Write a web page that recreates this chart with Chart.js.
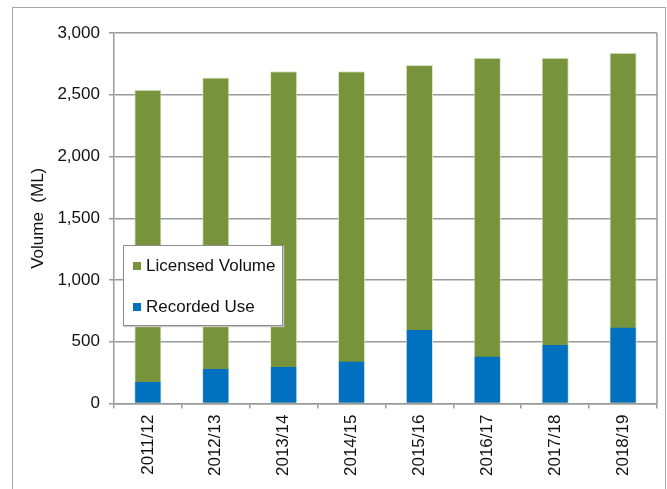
<!DOCTYPE html>
<html>
<head>
<meta charset="utf-8">
<script src="https://cdn.jsdelivr.net/npm/chart.js@4"></script>
<style>
  body { margin: 0; background: #fff; overflow: hidden; }
  #wrap { position: relative; width: 667px; height: 489px; }
  #frame { position: absolute; left: 12px; top: 7px; width: 652px; height: 500px; border: 1.5px solid #a6a6a6; }
  #chart { position: absolute; left: 0; top: 0; }
  #legend {
    position: absolute; left: 123px; top: 245px; width: 158px; height: 79px;
    background: #fff; border: 1.5px solid #8c8c8c; box-shadow: 1px 1px 1px #c8c8c8;
    font-family: "Liberation Sans", Arial, sans-serif; font-size: 17px; color: #111;
  }
  #legend .item { position: absolute; left: 9px; line-height: 19px; white-space: nowrap; }
  #legend .box { display: inline-block; width: 8px; height: 8px; margin-right: 5px; vertical-align: 1px; }
</style>
</head>
<body>
<div id="wrap">
  <div id="frame"></div>
  <canvas id="chart" width="667" height="489"></canvas>
  <div id="legend"></div>
</div>
<script>
  const seasons = ['2011/12', '2012/13', '2013/14', '2014/15', '2015/16', '2016/17', '2017/18', '2018/19'];
  const licensedVolume = [2540, 2640, 2690, 2690, 2740, 2800, 2800, 2840];
  const recordedUse = [175, 280, 295, 340, 595, 380, 475, 615];
  const yTicks = [0, 500, 1000, 1500, 2000, 2500, 3000];

  const green = '#77933C';
  const blue = '#0070C0';
  const gridColor = '#9a9a9a';
  const fontFamily = '"Liberation Sans", Arial, sans-serif';

  // legend box sitting inside the plot, like the original
  const legendItems = [
    { label: 'Licensed Volume', color: green, top: 10 },
    { label: 'Recorded Use', color: blue, top: 51 }
  ];
  const legend = document.getElementById('legend');
  for (const item of legendItems) {
    const div = document.createElement('div');
    div.className = 'item';
    div.style.top = item.top + 'px';
    div.innerHTML = `<span class="box" style="background:${item.color}"></span>${item.label}`;
    legend.appendChild(div);
  }

  // right hand border of the plot area
  const plotBorder = {
    id: 'plotBorder',
    beforeDatasetsDraw(chart) {
      const a = chart.chartArea;
      const ctx = chart.ctx;
      ctx.save();
      ctx.strokeStyle = gridColor;
      ctx.lineWidth = 1.5;
      ctx.beginPath();
      ctx.moveTo(a.right, a.top);
      ctx.lineTo(a.right, a.bottom);
      ctx.stroke();
      ctx.restore();
    }
  };

  const ctx = document.getElementById('chart').getContext('2d');
  const chart = new Chart(ctx, {
    type: 'bar',
    data: {
      labels: seasons,
      datasets: [
        {
          label: 'Recorded Use',
          data: recordedUse,
          backgroundColor: blue,
          borderColor: 'rgba(200,225,245,0.8)',
          borderWidth: { left: 1, right: 1, top: 0, bottom: 0 },
          order: 0
        },
        {
          label: 'Licensed Volume',
          data: licensedVolume,
          backgroundColor: green,
          borderColor: 'rgba(215,228,190,0.9)',
          borderWidth: 1,
          order: 1
        }
      ]
    },
    options: {
      responsive: false,
      animation: false,
      layout: { padding: { left: 24, top: 33, right: 10, bottom: 7 } },
      datasets: { bar: { categoryPercentage: 1, barPercentage: 0.4, grouped: false } },
      plugins: {
        legend: { display: false },
        tooltip: { enabled: false }
      },
      scales: {
        x: {
          grid: { drawOnChartArea: false, color: gridColor, lineWidth: 1.5, tickLength: 5 },
          border: { color: gridColor, width: 1.5 },
          ticks: {
            minRotation: 90, maxRotation: 90, padding: 6,
            color: '#111', font: { family: fontFamily, size: 17 }
          }
        },
        y: {
          min: 0,
          max: 3000,
          afterBuildTicks(axis) {
            axis.ticks = yTicks.map(v => ({ value: v }));
          },
          grid: { color: gridColor, lineWidth: 1.5, tickLength: 5 },
          border: { color: gridColor, width: 1.5 },
          ticks: {
            padding: 9,
            color: '#111',
            font: { family: fontFamily, size: 17 },
            callback: v => v.toLocaleString('en-US')
          },
          title: {
            display: true,
            text: 'Volume  (ML)',
            color: '#111',
            font: { family: fontFamily, size: 17 },
            padding: { top: 4, bottom: 0 }
          }
        }
      }
    },
    plugins: [plotBorder]
  });
</script>
</body>
</html>
